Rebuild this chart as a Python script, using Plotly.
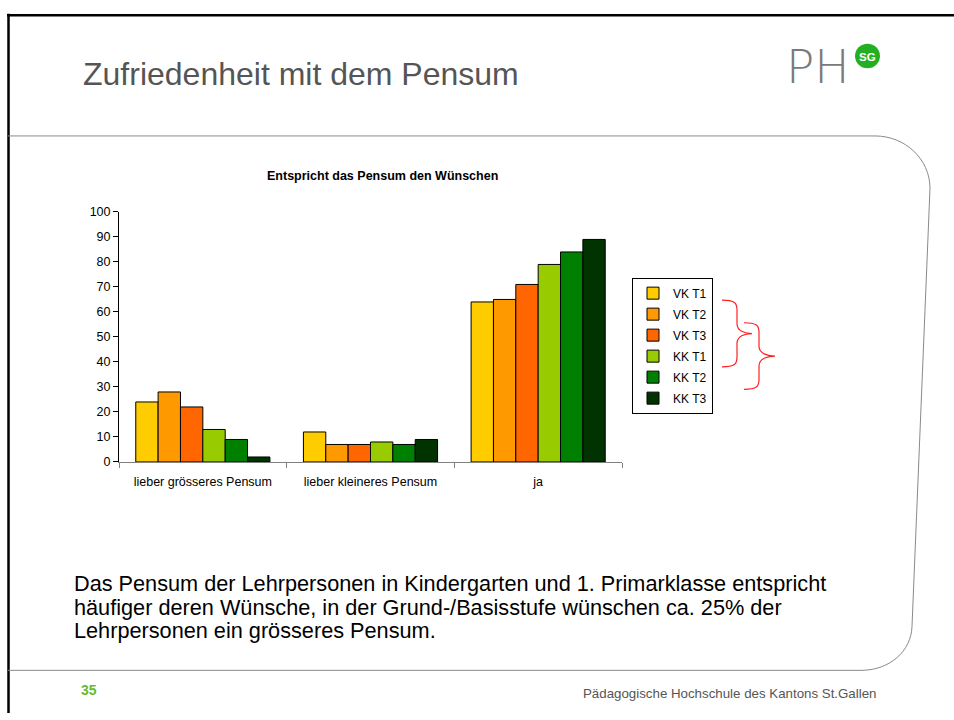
import plotly.graph_objects as go

W, H = 954, 720

categories = ["lieber grösseres Pensum", "lieber kleineres Pensum", "ja"]
series_names = ["VK T1", "VK T2", "VK T3", "KK T1", "KK T2", "KK T3"]
series_colors = ["#FFCC00", "#FF9900", "#FF6600", "#99CC00", "#008000", "#003300"]
series_values = [
    [24, 12, 64],
    [28, 7, 65],
    [22, 7, 71],
    [13, 8, 79],
    [9, 7, 84],
    [2, 9, 89],
]
y_ticks = list(range(0, 101, 10))

slide_title = "Zufriedenheit mit dem Pensum"
chart_title = "Entspricht das Pensum den Wünschen"
body_lines = [
    "Das Pensum der Lehrpersonen in Kindergarten und 1. Primarklasse entspricht",
    "häufiger deren Wünsche, in der Grund-/Basisstufe wünschen ca. 25% der",
    "Lehrpersonen ein grösseres Pensum.",
]
page_number = "35"
footer_text = "Pädagogische Hochschule des Kantons St.Gallen"

FONT = "Liberation Sans, Arial, sans-serif"


def px(x):
    return x / W


def py(y):
    return 1 - y / H


def path(cmds):
    out = []
    for c in cmds:
        op = c[0]
        pts = c[1:]
        s = op + " " + " ".join(f"{px(pts[i]):.5f},{py(pts[i+1]):.5f}" for i in range(0, len(pts), 2))
        out.append(s)
    return " ".join(out)


fig = go.Figure()
for name, color, vals in zip(series_names, series_colors, series_values):
    fig.add_trace(go.Bar(
        x=categories, y=vals, name=name, legendgroup=name,
        marker=dict(color=color, line=dict(color="#000000", width=1)),
    ))

shapes = []
# slide frame (black)
shapes.append(dict(type="line", xref="paper", yref="paper", x0=px(7), x1=px(954), y0=py(8.5), y1=py(8.5),
                   line=dict(color="#000000", width=2.5)))
shapes.append(dict(type="line", xref="paper", yref="paper", x0=px(8.5), x1=px(8.5), y0=py(7), y1=py(720),
                   line=dict(color="#000000", width=2.5)))
# gray content outline
shapes.append(dict(type="path", xref="paper", yref="paper",
                   path=path([("M", 8, 131.5), ("L", 875, 131.5), ("C", 905, 131.5, 930, 155, 930, 185),
                              ("L", 912, 632), ("C", 911, 657, 890, 676, 862, 676.5), ("L", 8, 676.5)]),
                   line=dict(color="#8a8a8a", width=1)))


def brace(xl, xv, xt, y0, ym, y1):
    return path([("M", xl, y0), ("C", xv - 2, y0, xv, y0 + 3, xv, y0 + 10),
                 ("L", xv, ym - 10), ("C", xv, ym - 2, xt - 6, ym, xt, ym),
                 ("C", xt - 6, ym, xv, ym + 2, xv, ym + 10),
                 ("L", xv, y1 - 10), ("C", xv, y1 - 3, xv - 2, y1, xl, y1)])


shapes.append(dict(type="path", xref="paper", yref="paper", path=brace(722, 737, 752, 299, 333, 367),
                   line=dict(color="#ff2020", width=1.2)))
shapes.append(dict(type="path", xref="paper", yref="paper", path=brace(744, 759, 775, 322, 356, 390),
                   line=dict(color="#ff2020", width=1.2)))
# logo circle
shapes.append(dict(type="circle", xref="paper", yref="paper", x0=px(855), x1=px(880), y0=py(37.5), y1=py(62.5),
                   fillcolor="#22b022", line=dict(width=0)))

annotations = []
annotations.append(dict(text=slide_title, x=px(81), y=py(68), xref="paper", yref="paper",
                        xanchor="left", yanchor="middle", showarrow=False,
                        font=dict(family=FONT, size=32, color="#555555")))
annotations.append(dict(text="PH", x=px(784), y=py(61), xref="paper", yref="paper",
                        xanchor="left", yanchor="middle", showarrow=False,
                        font=dict(family="DejaVu Sans, sans-serif", size=47, color="#7a7a7a", weight=200)))
annotations.append(dict(text="<b>SG</b>", x=px(867.5), y=py(50.5), xref="paper", yref="paper",
                        xanchor="center", yanchor="middle", showarrow=False,
                        font=dict(family=FONT, size=11.5, color="#ffffff")))
annotations.append(dict(text="<b>" + chart_title + "</b>", x=px(382), y=py(172), xref="paper", yref="paper",
                        xanchor="center", yanchor="middle", showarrow=False,
                        font=dict(family=FONT, size=12.5, color="#000000")))
for i, line in enumerate(body_lines):
    annotations.append(dict(text=line, x=px(72), y=py(588 + 24 * i), xref="paper", yref="paper",
                            xanchor="left", yanchor="middle", showarrow=False,
                            font=dict(family=FONT, size=21.7, color="#000000")))
annotations.append(dict(text="<b>" + page_number + "</b>", x=px(79), y=py(697), xref="paper", yref="paper",
                        xanchor="left", yanchor="middle", showarrow=False,
                        font=dict(family=FONT, size=14, color="#66bb33")))
annotations.append(dict(text=footer_text, x=px(878), y=py(700), xref="paper", yref="paper",
                        xanchor="right", yanchor="middle", showarrow=False,
                        font=dict(family=FONT, size=13.3, color="#555555")))

fig.update_layout(
    width=W, height=H,
    margin=dict(l=0, r=0, t=0, b=0),
    paper_bgcolor="#ffffff", plot_bgcolor="#ffffff",
    barmode="group", bargap=0.2, bargroupgap=0,
    showlegend=True,
    legend=dict(x=px(632), y=py(276), xanchor="left", yanchor="top",
                bordercolor="#000000", borderwidth=1, bgcolor="#ffffff",
                font=dict(family=FONT, size=12, color="#000000"),
                itemwidth=30, traceorder="grouped", tracegroupgap=2),
    xaxis=dict(domain=[px(119), px(622)], showgrid=False, showline=True, linecolor="#808080", linewidth=1,
               ticks="outside", tickson="boundaries", ticklen=5, tickcolor="#808080",
               ticklabelstandoff=8,
               tickfont=dict(family=FONT, size=12.5, color="#000000"), fixedrange=True),
    yaxis=dict(domain=[py(464), py(209)], range=[0, 100], tickvals=y_ticks, showgrid=False, zeroline=False,
               showline=True, linecolor="#000000", linewidth=1, ticks="outside", ticklen=5,
               tickcolor="#000000", tickfont=dict(family=FONT, size=12.5, color="#000000"), fixedrange=True),
    shapes=shapes,
    annotations=annotations,
)

post = (
    "document.documentElement.style.cssText='margin:0;padding:0;overflow:hidden;';"
    "document.body.style.cssText='margin:0;padding:0;overflow:hidden;';"
)

fig.write_html(
    "out.html",
    config={"displayModeBar": False},
    post_script=post,
)
